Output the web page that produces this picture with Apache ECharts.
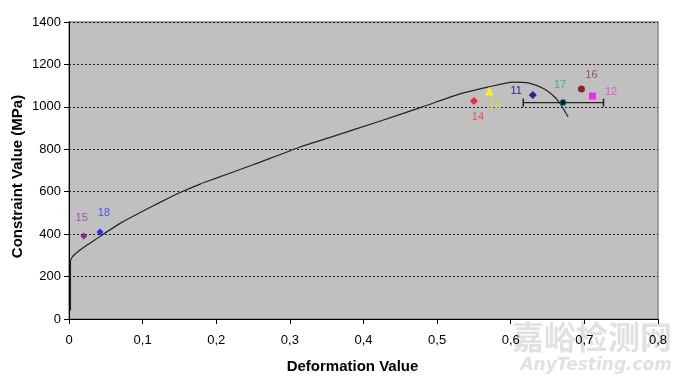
<!DOCTYPE html>
<html>
<head>
<meta charset="utf-8">
<script src="https://cdn.jsdelivr.net/npm/echarts@6/dist/echarts.min.js"></script>
<style>
  html, body { margin: 0; padding: 0; background: #fff; }
  #chart { width: 680px; height: 378px; }
</style>
</head>
<body>
<div id="chart"></div>
<script>
// stress-strain curve
const curveX = [0.002, 0.002, 0.004, 0.008, 0.015, 0.025, 0.035, 0.045, 0.07, 0.1, 0.125, 0.151, 0.178, 0.2, 0.25, 0.314, 0.36, 0.42, 0.48, 0.531, 0.57, 0.603, 0.625, 0.645, 0.66, 0.668, 0.678]
const curveY = [40, 272, 290, 305, 325, 350, 372, 396, 452, 508, 552, 596, 636, 664, 727, 811, 862, 930, 1000, 1061, 1094, 1117, 1112, 1085, 1045, 1010, 952]

// measured points
const pointNames = ['14', '13', '11', '17', '16', '12', '15', '18']
const pointX = [0.550, 0.571, 0.630, 0.671, 0.696, 0.711, 0.020, 0.042]
const pointY = [1028, 1075, 1056, 1020, 1084, 1051, 391, 410]

// error bar around point 17
const errX = [0.617, 0.726]
const errY = [1020, 1020]

const xTicks = [0, 0.1, 0.2, 0.3, 0.4, 0.5, 0.6, 0.7, 0.8]

// marker looks for each point
const looks = {
    '14': {symbol: 'diamond', size: 8, color: '#FF0000', label: '#FF3333', pos: 'bottom', off: [4, 2]},
    '13': {symbol: 'triangle', size: 9, color: '#FFFF00', label: '#E6E600', pos: 'bottom', off: [5, -1]},
    '11': {symbol: 'diamond', size: 8, color: '#000080', label: '#000080', pos: 'left', off: [-2, -4]},
    '17': {symbol: 'circle', size: 7, color: '#008080', label: '#339999', pos: 'top', off: [-3, -4]},
    '16': {symbol: 'circle', size: 7, color: '#800000', label: '#993333', pos: 'top', off: [10, 0]},
    '12': {symbol: 'rect', size: 7, color: '#FF00FF', label: '#FF33CC', pos: 'right', off: [4, -4]},
    '15': {symbol: 'diamond', size: 7, color: '#800080', label: '#993399', pos: 'top', off: [-2, -4]},
    '18': {symbol: 'diamond', size: 7, color: '#0000FF', label: '#3333FF', pos: 'top', off: [4, -5]}
}

let myChart = echarts.init(document.getElementById('chart'))

let curveData = []
for (let i = 0; i < curveX.length; i++) {
    curveData.push([curveX[i], curveY[i]])
}

let pointData = []
for (let i = 0; i < pointNames.length; i++) {
    let lk = looks[pointNames[i]]
    pointData.push({
        name: pointNames[i],
        value: [pointX[i], pointY[i]],
        symbol: lk.symbol,
        symbolSize: lk.size,
        itemStyle: {color: lk.color},
        label: {
            show: true,
            position: lk.pos,
            offset: lk.off,
            formatter: '{b}',
            color: lk.label,
            fontSize: 11,
            fontFamily: 'Liberation Sans, Arial, sans-serif'
        }
    })
}

let option = {
    animation: false,
    backgroundColor: '#ffffff',
    grid: {
        left: 69,
        right: 22,
        top: 22,
        bottom: 59,
        containLabel: false,
        outerBoundsMode: 'none',
        show: true,
        backgroundColor: '#C0C0C0',
        borderColor: '#8a8a8a',
        borderWidth: 1.5
    },
    xAxis: {
        type: 'value',
        min: 0,
        max: 0.8,
        interval: 0.1,
        name: 'Deformation Value',
        nameLocation: 'middle',
        nameGap: 40,
        nameTextStyle: {fontSize: 15, fontWeight: 'bold', color: '#000', fontFamily: 'Liberation Sans, Arial, sans-serif', padding: [0, 22, 0, 0]},
        axisLine: {lineStyle: {color: '#000', width: 1}},
        axisTick: {show: true, length: 5, lineStyle: {color: '#000'}},
        axisLabel: {
            margin: 15,
            fontSize: 13,
            color: '#000',
            fontFamily: 'Liberation Sans, Arial, sans-serif',
            formatter: function (v) {
                let t = xTicks.find(function (k) { return Math.abs(k - v) < 1e-6 })
                return String(t === undefined ? v : t).replace('.', ',')
            }
        },
        splitLine: {show: false}
    },
    yAxis: {
        type: 'value',
        min: 0,
        max: 1400,
        interval: 200,
        name: 'Constraint Value (MPa)',
        nameLocation: 'middle',
        nameGap: 44,
        nameMoveOverlap: false,
        nameTextStyle: {fontSize: 15, fontWeight: 'bold', color: '#000', fontFamily: 'Liberation Sans, Arial, sans-serif', padding: [0, 12, 0, 0]},
        axisLine: {show: true, lineStyle: {color: '#000', width: 1}},
        axisTick: {show: true, length: 5, lineStyle: {color: '#000'}},
        axisLabel: {
            margin: 8,
            fontSize: 13,
            color: '#000',
            fontFamily: 'Liberation Sans, Arial, sans-serif',
            formatter: function (v) { return String(v) }
        },
        splitLine: {show: true, lineStyle: {color: '#222', type: [2, 2], width: 1}}
    },
    graphic: [
        {
            type: 'text',
            right: 8,
            top: 321,
            style: {text: '嘉峪检测网', font: 'bold 32px "Noto Sans CJK SC"', fill: 'rgba(205,205,205,0.6)'}
        },
        {
            type: 'text',
            right: 8,
            top: 357,
            style: {text: 'AnyTesting.com', font: 'italic bold 17px "DejaVu Sans"', fill: 'rgba(205,205,205,0.6)'}
        }
    ],
    series: [
        {
            name: 'curve',
            type: 'line',
            data: curveData,
            showSymbol: false,
            smooth: 0.2,
            lineStyle: {color: '#222', width: 1.2},
            z: 2
        },
        {
            name: 'error',
            type: 'line',
            data: [[errX[0], errY[0]], [errX[1], errY[1]]],
            symbol: 'rect',
            symbolSize: [1.5, 8],
            showSymbol: true,
            itemStyle: {color: '#222'},
            lineStyle: {color: '#222', width: 1.2},
            z: 3
        },
        {
            name: 'points',
            type: 'scatter',
            data: pointData,
            z: 4
        },
        {
            name: 'center',
            type: 'scatter',
            data: [[pointX[3], pointY[3]]],
            symbol: 'circle',
            symbolSize: 5,
            itemStyle: {color: '#000'},
            z: 5
        }
    ]
}

myChart.setOption(option)
</script>
</body>
</html>
